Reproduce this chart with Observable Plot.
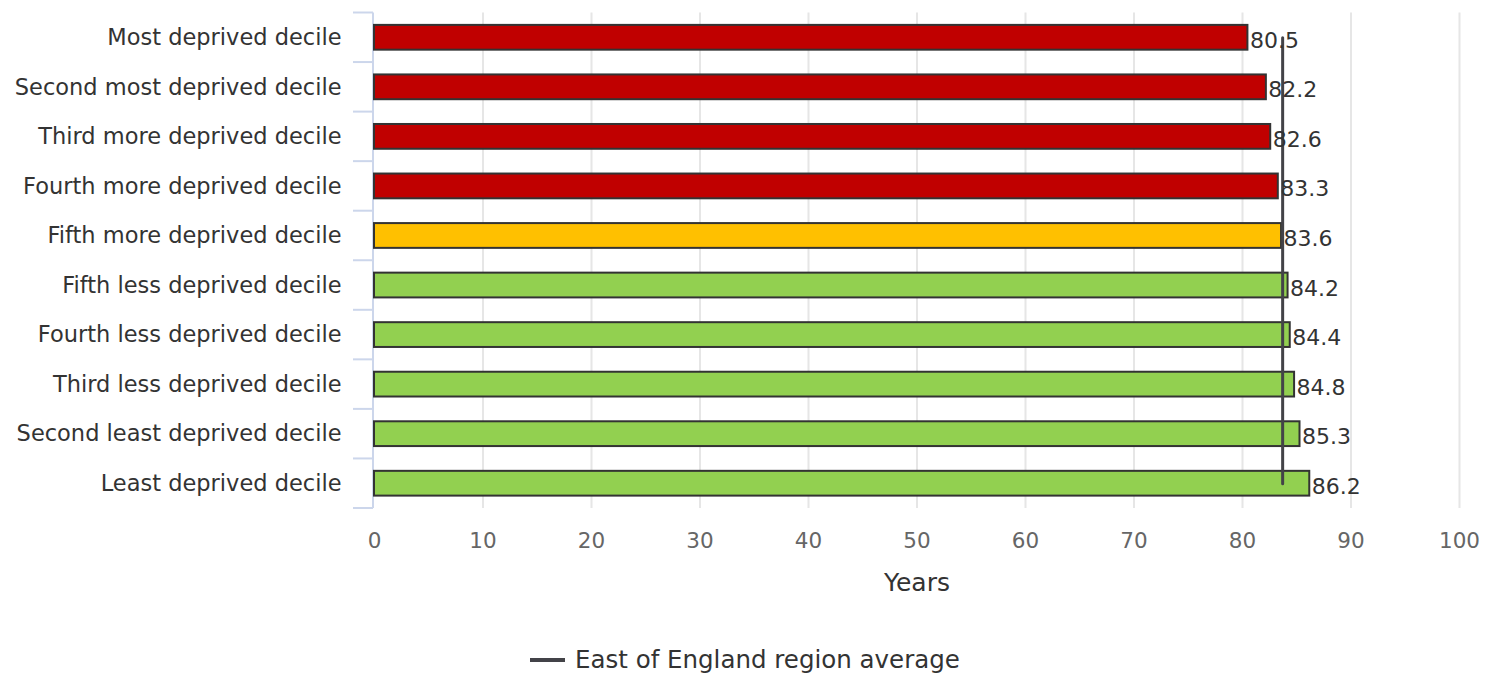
<!DOCTYPE html>
<html>
<head>
<meta charset="utf-8">
<script src="https://cdn.jsdelivr.net/npm/d3@7"></script>
<script src="https://cdn.jsdelivr.net/npm/@observablehq/plot@0.6"></script>
<style>
  html, body { margin: 0; padding: 0; background: #fff; }
  body { position: relative; width: 1487px; height: 673px; font-family: "DejaVu Sans", sans-serif; }
  #legend { position: absolute; top: 646px; left: 530px; display: flex; align-items: center; color: #333; font-size: 24.5px; line-height: 28px; }
  #legend .swatch { width: 35px; height: 4px; background: #434348; margin-right: 10px; }
</style>
</head>
<body>
<div id="chart"></div>
<div id="legend"><span class="swatch"></span><span>East of England region average</span></div>
<script>
// Life expectancy at birth by deprivation decile (years)
const categories = [
  "Most deprived decile",
  "Second most deprived decile",
  "Third more deprived decile",
  "Fourth more deprived decile",
  "Fifth more deprived decile",
  "Fifth less deprived decile",
  "Fourth less deprived decile",
  "Third less deprived decile",
  "Second least deprived decile",
  "Least deprived decile"
];
const values = [80.5, 82.2, 82.6, 83.3, 83.6, 84.2, 84.4, 84.8, 85.3, 86.2];
// Comparison with the regional average
const comparison = ["worse", "worse", "worse", "worse", "similar", "better", "better", "better", "better", "better"];
const regionAverage = 83.7;
const xTicks = [0, 10, 20, 30, 40, 50, 60, 70, 80, 90, 100];

const data = categories.map((c, i) => ({category: c, value: values[i], comparison: comparison[i]}));
const avgLine = [
  {category: categories[0], value: regionAverage},
  {category: categories[categories.length - 1], value: regionAverage}
];

// Light blue category axis: a vertical line plus ticks on the band boundaries
function categoryAxis(index, scales) {
  const y = scales.y;
  const bw = y.bandwidth();
  const ys = categories.map(c => y(c));
  const step = ys[1] - ys[0];
  const gap = (step - bw) / 2;
  const edges = ys.map(v => v - gap).concat([ys[ys.length - 1] + bw + gap]);
  const x0 = scales.x(0) - 1;
  const g = d3.create("svg:g").attr("stroke", "#ccd6eb").attr("stroke-width", 2);
  g.append("line").attr("x1", x0).attr("x2", x0).attr("y1", edges[0]).attr("y2", edges[edges.length - 1]);
  for (const e of edges) {
    g.append("line").attr("x1", x0 - 20).attr("x2", x0).attr("y1", e).attr("y2", e);
  }
  return g.node();
}

const chart = Plot.plot({
  width: 1487,
  height: 620,
  marginTop: 12.5,
  marginBottom: 112,
  marginLeft: 374,
  marginRight: 28,
  style: {fontFamily: "DejaVu Sans, sans-serif", background: "#fff"},
  x: {domain: [0, 100]},
  y: {domain: categories, paddingInner: 0.5, paddingOuter: 0.25, round: false},
  color: {domain: ["worse", "similar", "better"], range: ["#c00000", "#ffc000", "#92d050"]},
  marks: [
    Plot.gridX(xTicks.filter(d => d > 0), {stroke: "#e6e6e6", strokeOpacity: 1, strokeWidth: 2}),
    Plot.axisX(xTicks, {tickSize: 0, tickPadding: 24, fontSize: 21.5, fill: "#666", label: null}),
    Plot.axisY({tickSize: 0, tickPadding: 33, fontSize: 22.5, fill: "#333", label: null}),
    categoryAxis,
    Plot.barX(data, {x: "value", y: "category", fill: "comparison", stroke: "#333", strokeWidth: 2}),
    Plot.line(avgLine, {x: "value", y: "category", stroke: "#434348", strokeWidth: 3}),
    Plot.text(data, {x: "value", y: "category", text: d => d.value.toFixed(1), textAnchor: "start", dx: 2, dy: 3, fontSize: 22, fill: "#333"}),
    Plot.text(["Years"], {frameAnchor: "bottom", dy: 82, fontSize: 25, fill: "#333"})
  ]
});
document.getElementById("chart").append(chart);
</script>
</body>
</html>
